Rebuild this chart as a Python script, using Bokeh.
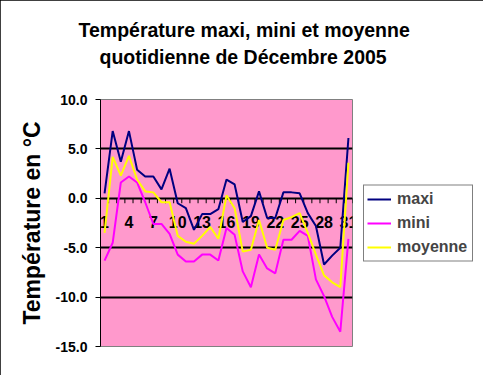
from bokeh.plotting import figure
from bokeh.models import Range1d, FixedTicker, NumeralTickFormatter, Title, Legend, LegendItem
from bokeh.embed import file_html
from bokeh.resources import INLINE
from bokeh.core.properties import value

days = list(range(1, 32))
maxi = [0.5, 6.8, 3.7, 6.8, 2.9, 2.2, 2.2, 0.9, 3.0, -0.5, -1.0, -3.2, -1.6, -1.6, -1.1, 1.9,
        1.4, -2.4, -1.8, 0.7, -2.0, -2.0, 0.6, 0.6, 0.5, -1.5, -2.8, -6.7, -5.8, -5.0, 6.1]
mini = [-6.3, -4.5, 1.6, 2.2, 1.6, -0.4, -2.6, -2.6, -3.6, -5.7, -6.4, -6.4, -5.7, -5.7, -6.3, -3.0,
        -3.7, -7.4, -9.0, -5.7, -7.1, -7.6, -4.2, -4.2, -3.3, -3.8, -8.2, -9.9, -12.0, -13.5, -4.1]
moyenne = [-3.5, 4.2, 2.3, 4.3, 1.9, 0.7, 0.6, -0.4, -0.4, -3.8, -4.4, -4.6, -3.8, -2.9, -4.1, 0.3,
           -1.0, -5.4, -5.2, -2.2, -5.0, -5.2, -2.2, -1.9, -1.5, -3.5, -5.7, -7.8, -8.5, -9.0, 3.6]
x_tick_days = [1, 4, 7, 10, 13, 16, 19, 22, 25, 28, 31]
x_tick_labels = [str(d) for d in x_tick_days]
y_ticks = [-15, -10, -5, 0, 5, 10]

FONT = "Liberation Sans"

p = figure(frame_width=252, frame_height=247, output_backend="svg", toolbar_location=None,
           x_range=Range1d(0.5, 31.5), y_range=Range1d(-15, 10),
           x_axis_location=None,
           min_border_left=100, min_border_right=131, min_border_top=99, min_border_bottom=29)
p.styles = {"outline": "1px solid black", "outline-offset": "-1px"}
p.background_fill_color = "#FF99CC"
p.border_fill_color = "white"
p.outline_line_color = "#808080"
p.outline_line_width = 1

# titles (two lines) stacked outward from the frame; a thin spacer keeps them up
spacer = Title(text=" ", text_font_size="1px", standoff=27)
t2 = Title(text="quotidienne de Décembre 2005", align="left", offset=-1,
           text_font=FONT, text_font_size="19.5px", text_font_style="bold",
           text_color="black", standoff=3)
t1 = Title(text="Température maxi, mini et moyenne", align="left", offset=-22,
           text_font=FONT, text_font_size="19.5px", text_font_style="bold",
           text_color="black", standoff=3)
p.add_layout(spacer, "above")
p.add_layout(t2, "above")
p.add_layout(t1, "above")

# grid
p.xgrid.visible = False
p.ygrid.ticker = FixedTicker(ticks=y_ticks)
p.ygrid.grid_line_color = "black"
p.ygrid.grid_line_width = 2

# y axis
ax = p.yaxis[0]
ax.ticker = FixedTicker(ticks=y_ticks)
ax.formatter = NumeralTickFormatter(format="0.0")
ax.major_label_text_font = FONT
ax.major_label_text_font_size = "14px"
ax.major_label_text_font_style = "bold"
ax.major_label_text_color = "black"
ax.major_tick_out = 5
ax.major_tick_in = 0
ax.minor_tick_out = 0
ax.minor_tick_in = 0
ax.major_label_standoff = 8
ax.axis_line_color = "black"
ax.axis_line_width = 1
ax.major_tick_line_color = "black"
ax.axis_label = "Température en °C"
ax.axis_label_text_font = FONT
ax.axis_label_text_font_size = "23px"
ax.axis_label_text_font_style = "bold"
ax.axis_label_text_color = "black"
ax.axis_label_standoff = 8

# manual category axis at y = 0
bounds = [d - 0.5 for d in days] + [days[-1] + 0.5]
p.segment(x0=bounds, y0=[0] * len(bounds), x1=bounds, y1=[-0.5] * len(bounds),
          line_color="black", line_width=1)
p.text(x=x_tick_days, y=[0] * len(x_tick_days), text=x_tick_labels,
       text_font=value(FONT), text_font_size="16px", text_font_style="bold",
       text_align="center", text_baseline="top", y_offset=18, text_color="black")

# series
r_max = p.line(days, maxi, line_color="#000080", line_width=2)
r_min = p.line(days, mini, line_color="#FF00FF", line_width=2)
r_moy = p.line(days, moyenne, line_color="#FFFF00", line_width=2)

lg = Legend(items=[LegendItem(label="maxi", renderers=[r_max]),
                   LegendItem(label="mini", renderers=[r_min]),
                   LegendItem(label="moyenne", renderers=[r_moy])],
            location="center_left")
lg.label_text_font = FONT
lg.label_text_font_size = "16px"
lg.label_text_font_style = "bold"
lg.glyph_width = 24
lg.glyph_height = 21
lg.label_height = 21
lg.label_width = 72
lg.spacing = 3
lg.padding = 3
lg.margin = 11
lg.label_standoff = 6
lg.border_line_color = "black"
lg.border_line_width = 1
lg.background_fill_color = "white"
lg.background_fill_alpha = 1
p.add_layout(lg, "right")

open("out.html", "w").write(file_html(p, INLINE))
